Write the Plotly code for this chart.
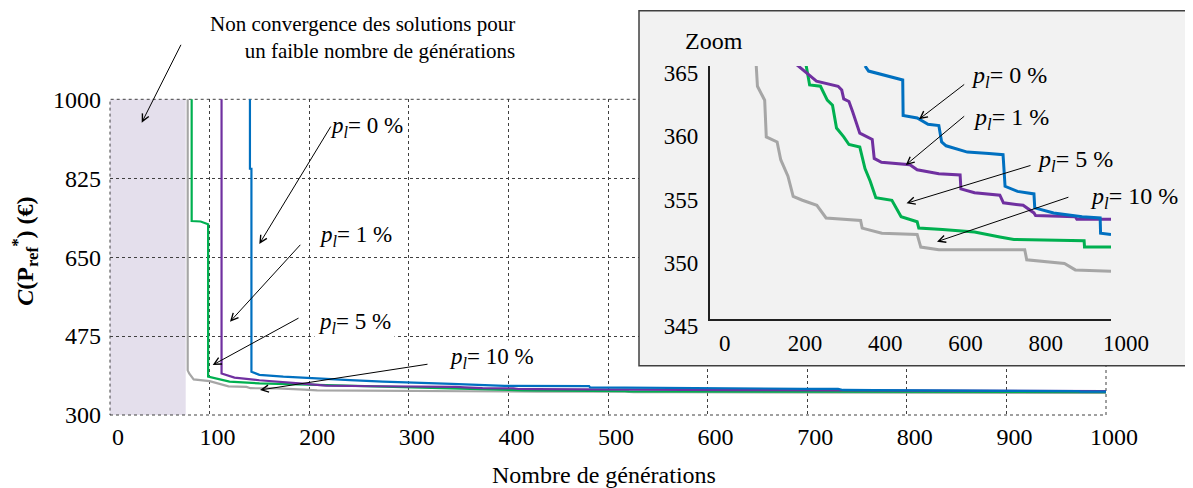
import plotly.graph_objects as go

# the page is shown with an 8 px body margin, so the figure is 8 px smaller
OFF = 8
W, H = 1193 - OFF, 488 - OFF

# best cost found vs number of generations, for each p_l
gen_p0 = [140.5, 140.5, 142, 142, 150, 174, 241, 274, 343, 387, 396, 481, 482, 517, 544, 571, 578, 589, 642, 696,
          731, 736, 767, 808, 810, 857, 928, 973, 974, 1000]
cost_p0 = [1100, 846, 846, 396, 389, 385, 377.5, 374, 369, 365.0, 364.6, 363.9, 361.1, 360.9, 360.4, 360.3, 359.0,
           358.7, 358.2, 358.1, 358.0, 355.5, 355.1, 354.9, 353.8, 353.4, 353.1, 353.0, 351.8, 351.7]

gen_p1 = [112, 112, 125, 150, 190, 217, 266, 320, 329, 334, 347, 356, 365, 374, 405, 410, 428, 499, 517, 571, 624,
          626, 660, 723, 732, 781, 808, 812, 911, 915, 1000]
cost_p1 = [1100, 392, 383, 377, 370, 365.1, 363.8, 363.4, 363.1, 362.4, 362.2, 361.4, 360.5, 359.7, 359.2, 357.7,
           357.4, 357.2, 356.8, 356.5, 356.4, 355.3, 355.0, 354.8, 354.2, 354.0, 353.4, 353.2, 353.1, 352.9, 352.9]

gen_p5 = [82, 82, 91, 97.5, 98.5, 98.5, 120, 150, 200, 240, 249, 276, 293, 306, 316, 334, 347, 374, 387, 400, 414,
          454, 477, 517, 521, 580, 660, 723, 758, 933, 934, 1000]
cost_p5 = [1100, 730, 729, 723, 723, 385, 374, 370, 367.5, 365.1, 363.5, 363.4, 362.3, 361.9, 360.1, 359.4, 358.8,
           358.6, 356.9, 355.9, 354.6, 354.4, 353.1, 352.7, 352.2, 352.1, 351.9, 351.5, 351.3, 351.2, 350.7, 350.7]

gen_p10 = [78, 78, 79.5, 82, 84, 100, 116, 119, 137, 141, 168, 177, 195, 208, 231, 267, 290, 376, 380, 429, 517,
           526, 571, 785, 790, 884, 911, 1000]
cost_p10 = [1100, 399, 392, 385, 379, 375, 365, 363.4, 362.3, 359.4, 359.0, 357.6, 356.3, 354.7, 354.4, 354.0,
            353.0, 352.8, 352.2, 351.8, 351.7, 350.7, 350.5, 350.5, 349.7, 349.4, 348.9, 348.8]

series = [
    ("p_l = 10 %", gen_p10, cost_p10, "#a6a6a6"),
    ("p_l = 5 %", gen_p5, cost_p5, "#00b050"),
    ("p_l = 1 %", gen_p1, cost_p1, "#7030a0"),
    ("p_l = 0 %", gen_p0, cost_p0, "#0070c0"),
]

main_xticks = list(range(0, 1001, 100))
main_yticks = [300, 475, 650, 825, 1000]
zoom_xticks = [0, 200, 400, 600, 800, 1000]
zoom_yticks = [345, 350, 355, 360, 365]
no_conv_limit = 76  # generations without convergence

FONT = "Liberation Serif, Times New Roman, serif"


def px(x):
    return (x - OFF) / W


def py(y):
    return 1 - (y - OFF) / H


fig = go.Figure()

for name, gx, gy, col in series:
    fig.add_trace(go.Scatter(x=gx, y=gy, mode="lines", name=name,
                             line=dict(color=col, width=2.2), xaxis="x", yaxis="y"))

# empty subplot used as the grey box of the inset
fig.add_trace(go.Scatter(x=[], y=[], xaxis="x2", yaxis="y2", showlegend=False))

for name, gx, gy, col in series:
    zx = [a for a, b in zip(gx, gy) if b <= 365.2]
    zy = [b for b in gy if b <= 365.2]
    fig.add_trace(go.Scatter(x=zx, y=zy, mode="lines", name=name, showlegend=False,
                             line=dict(color=col, width=3), xaxis="x3", yaxis="y3"))

grid = dict(showgrid=True, gridcolor="#404040", gridwidth=1, griddash="dot",
            zeroline=False, showline=False, ticks="", automargin=False)

fig.update_layout(
    width=W, height=H,
    margin=dict(l=0, r=0, t=0, b=0, pad=0),
    paper_bgcolor="white",
    plot_bgcolor="#f2f2f2",
    showlegend=False,
    font=dict(family=FONT, color="black", size=22),
    xaxis=dict(domain=[px(110), px(1106)], range=[0, 1000], tickvals=main_xticks, anchor="y",
               tickfont=dict(size=24), ticklabelshift=8, ticklabelstandoff=5, **grid),
    yaxis=dict(domain=[py(415), py(99.3)], range=[300, 1000], tickvals=main_yticks, anchor="x",
               tickfont=dict(size=24), ticklabelstandoff=8, **grid),
    xaxis2=dict(domain=[px(639), 1], range=[0, 1], visible=False, anchor="y2", automargin=False),
    yaxis2=dict(domain=[py(365.7), py(10.7)], range=[0, 1], visible=False, anchor="x2", automargin=False),
    xaxis3=dict(domain=[px(709.7), px(1111)], range=[0, 1000], tickvals=zoom_xticks, anchor="y3",
                showgrid=False, zeroline=False, showline=True, linecolor="#202020", linewidth=1.5,
                ticks="", tickfont=dict(size=23), ticklabelshift=15, ticklabelstandoff=2, automargin=False),
    yaxis3=dict(domain=[py(319.3), py(66)], range=[345, 365], tickvals=zoom_yticks, anchor="x3",
                showgrid=False, zeroline=False, showline=True, linecolor="#202020", linewidth=1.5,
                ticks="", tickfont=dict(size=23), ticklabelshift=7, ticklabelstandoff=5, automargin=False),
)

# white background for the main plot, non-convergence zone, dotted frame, inset frame
fig.add_shape(type="rect", xref="paper", yref="paper", x0=px(110), x1=px(1106), y0=py(415), y1=py(99.3),
              fillcolor="white", line_width=0, layer="below")
fig.add_shape(type="rect", xref="x", yref="paper", x0=0, x1=no_conv_limit, y0=py(415), y1=py(99.3),
              fillcolor="#e4dfec", line_width=0, layer="below")
fig.add_shape(type="rect", xref="paper", yref="paper", x0=px(110), x1=px(1106), y0=py(415), y1=py(99.3),
              fillcolor="rgba(0,0,0,0)", line=dict(color="#404040", width=1, dash="dot"), layer="below")
fig.add_shape(type="rect", xref="paper", yref="paper", x0=px(639), x1=1.03, y0=py(365.7), y1=py(10.7),
              fillcolor="rgba(0,0,0,0)", line=dict(color="#404040", width=1.5), layer="above")


def label(text, x, y, size, bg=None, xanchor="center", align="center"):
    fig.add_annotation(text=text, x=px(x), y=py(y), xref="paper", yref="paper", showarrow=False,
                       xanchor=xanchor, yanchor="middle", align=align,
                       font=dict(size=size, family=FONT), bgcolor=bg, borderpad=3)


def arrow(hx, hy, tx, ty):
    fig.add_annotation(text="", x=px(hx), y=py(hy), xref="paper", yref="paper", showarrow=True,
                       ax=tx - hx, ay=ty - hy, arrowhead=5, arrowsize=1.4, arrowwidth=1,
                       arrowcolor="black", standoff=0)


pl = "<i>p</i><sub><i>l</i></sub>= "

label("Non convergence des solutions pour<br>un faible nombre de générations", 519, 37, 21,
      xanchor="right", align="right")
arrow(141.7, 122.7, 181.7, 43.3)

label(pl + "0 %", 366.5, 127, 23, "white")
label(pl + "1 %", 355, 236, 23, "white")
label(pl + "5 %", 354, 322.5, 23, "white")
label(pl + "10 %", 491.5, 358, 23, "white")
arrow(259.3, 244, 331.7, 125)
arrow(230, 321.7, 301.7, 243.3)
arrow(212.7, 365, 300, 317.3)
arrow(260, 390, 429, 364)

label("Zoom", 713.5, 41, 24)
label(pl + "0 %", 1008.8, 76.7, 24)
label(pl + "1 %", 1011, 119, 24)
label(pl + "5 %", 1075, 161, 24)
label(pl + "10 %", 1134, 197.5, 24)
arrow(919, 119.3, 965.7, 83.3)
arrow(905.8, 165, 965.7, 115)
arrow(906.5, 203.3, 1032, 165)
arrow(937, 241.7, 1069.9, 196.7)

label("Nombre de générations", 604, 474.5, 24)
fig.add_annotation(text="<b><i>C</i>(P<sub>ref</sub><sup>*</sup>) (€)</b>", x=px(25), y=py(251.7),
                   xref="paper", yref="paper", showarrow=False, textangle=-90,
                   xanchor="center", yanchor="middle", font=dict(size=24, family=FONT))

fig.write_html("out.html")
